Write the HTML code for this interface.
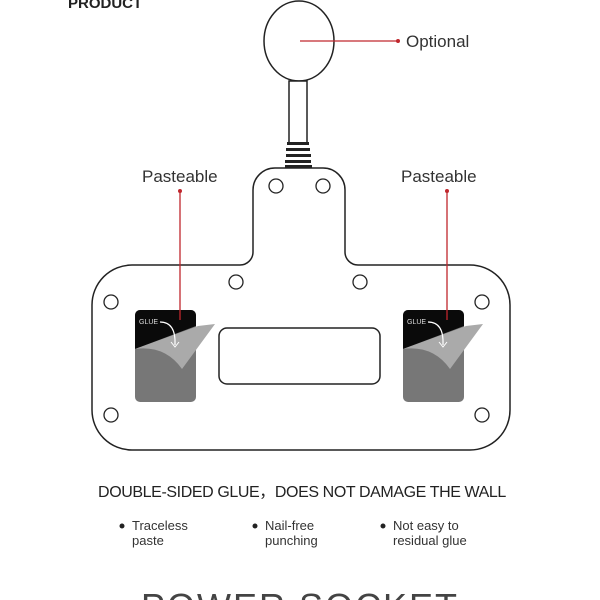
<!DOCTYPE html>
<html><head><meta charset="utf-8"><style>
html,body{margin:0;padding:0;background:#fff;}
svg{display:block;}
text{font-family:"Liberation Sans",sans-serif;}
</style></head><body>
<svg width="600" height="600" viewBox="0 0 600 600" xmlns="http://www.w3.org/2000/svg">
<defs>
<clipPath id="cl"><rect x="135" y="310" width="61" height="92" rx="5"/></clipPath>
<clipPath id="cr"><rect x="403" y="310" width="61" height="92" rx="5"/></clipPath>
</defs>
<text x="68" y="8" font-size="15" font-weight="bold" fill="#222">PRODUCT</text>
<ellipse cx="299" cy="41" rx="35" ry="40" fill="#fff" stroke="#222" stroke-width="1.5"/>
<rect x="289" y="81" width="18" height="62" fill="#fff" stroke="#222" stroke-width="1.5"/>
<g fill="#222">
<rect x="287" y="142" width="22" height="3"/>
<rect x="286" y="148" width="24" height="3"/>
<rect x="286" y="154" width="25" height="3"/>
<rect x="285" y="160" width="26" height="3"/>
<rect x="285" y="165" width="27" height="3"/>
</g>
<line x1="300" y1="41" x2="398" y2="41" stroke="#c0272d" stroke-width="1.3"/>
<circle cx="398" cy="41" r="2" fill="#c0272d"/>
<text x="406" y="47" font-size="17" fill="#333">Optional</text>
<path d="M92 305 A40 40 0 0 1 132 265 L240 265 A13 13 0 0 0 253 252 L253 190 A22 22 0 0 1 275 168 L323 168 A22 22 0 0 1 345 190 L345 252 A13 13 0 0 0 358 265 L470 265 A40 40 0 0 1 510 305 L510 410 A40 40 0 0 1 470 450 L132 450 A40 40 0 0 1 92 410 Z" fill="#fff" stroke="#222" stroke-width="1.5"/>
<g fill="#fff" stroke="#222" stroke-width="1.3">
<circle cx="276" cy="186" r="7"/><circle cx="323" cy="186" r="7"/>
<circle cx="236" cy="282" r="7"/><circle cx="360" cy="282" r="7"/>
<circle cx="111" cy="302" r="7"/><circle cx="482" cy="302" r="7"/>
<circle cx="111" cy="415" r="7"/><circle cx="482" cy="415" r="7"/>
</g>
<rect x="219" y="328" width="161" height="56" rx="8" fill="#fff" stroke="#222" stroke-width="1.5"/>
<g clip-path="url(#cl)">
<rect x="135" y="310" width="61" height="92" fill="#777"/>
<polygon points="135,310 196,310 196,326 135,349" fill="#0a0a0a"/>
</g>
<path d="M135 349 L198 326 L215 324 L182 369 Q165 345 135 349 Z" fill="#aaa"/>
<path d="M160 322 Q176 322 175 345" fill="none" stroke="#fff" stroke-width="1.2"/>
<path d="M171 342 L175 347 L179 342" fill="none" stroke="#fff" stroke-width="1"/>
<text x="139" y="324" font-size="7" fill="#ddd">GLUE</text>
<g clip-path="url(#cr)">
<rect x="403" y="310" width="61" height="92" fill="#777"/>
<polygon points="403,310 464,310 464,326 403,349" fill="#0a0a0a"/>
</g>
<path d="M403 349 L466 326 L483 324 L450 369 Q433 345 403 349 Z" fill="#aaa"/>
<path d="M428 322 Q444 322 443 345" fill="none" stroke="#fff" stroke-width="1.2"/>
<path d="M439 342 L443 347 L447 342" fill="none" stroke="#fff" stroke-width="1"/>
<text x="407" y="324" font-size="7" fill="#ddd">GLUE</text>
<line x1="180" y1="191" x2="180" y2="320" stroke="#c0272d" stroke-width="1.3"/>
<circle cx="180" cy="191" r="2" fill="#c0272d"/>
<line x1="447" y1="191" x2="447" y2="320" stroke="#c0272d" stroke-width="1.3"/>
<circle cx="447" cy="191" r="2" fill="#c0272d"/>
<text x="142" y="182" font-size="17" fill="#333">Pasteable</text>
<text x="401" y="182" font-size="17" fill="#333">Pasteable</text>
<text x="302" y="497" font-size="16" fill="#222" text-anchor="middle" font-family="Liberation Sans, Noto Sans CJK SC, sans-serif" letter-spacing="-0.4">DOUBLE-SIDED GLUE，DOES NOT DAMAGE THE WALL</text>
<g font-size="13" fill="#333">
<circle cx="122" cy="526" r="2.5" fill="#222"/>
<text x="132" y="530">Traceless</text><text x="132" y="545">paste</text>
<circle cx="255" cy="526" r="2.5" fill="#222"/>
<text x="265" y="530">Nail-free</text><text x="265" y="545">punching</text>
<circle cx="383" cy="526" r="2.5" fill="#222"/>
<text x="393" y="530">Not easy to</text><text x="393" y="545">residual glue</text>
</g>
<text x="300" y="619" font-size="36" fill="#444" text-anchor="middle" letter-spacing="2" font-family="Liberation Mono, monospace">POWER SOCKET</text>
</svg>
</body></html>
